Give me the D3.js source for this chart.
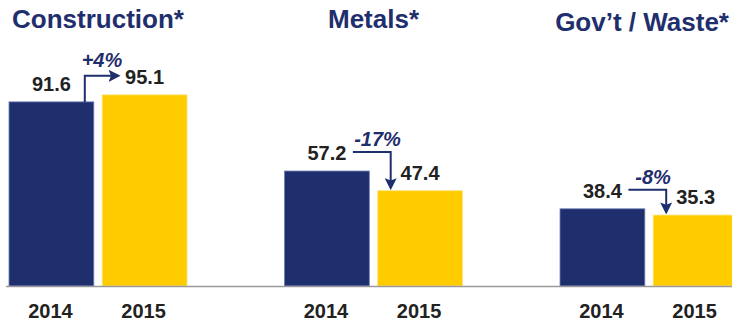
<!DOCTYPE html>
<html>
<head>
<meta charset="utf-8">
<script src="https://cdn.jsdelivr.net/npm/d3@7"></script>
<style>
  html, body { margin: 0; padding: 0; background: #fff; }
  svg { display: block; font-family: "Liberation Sans", Arial, sans-serif; }
</style>
</head>
<body>
<svg id="chart" width="732" height="324"></svg>
<script>
// ---- data ----
const categories = ["Construction*", "Metals*", "Gov\u2019t / Waste*"];
const years = ["2014", "2015"];
const values2014 = [91.6, 57.2, 38.4];
const values2015 = [95.1, 47.4, 35.3];
const changeLabels = ["+4%", "-17%", "-8%"];

// ---- layout ----
const W = 732, H = 324;
const navy = "#1f2e6c", yellow = "#ffcc00", textDark = "#222222";
const svg = d3.select("#chart");

const x0 = d3.scaleBand().domain(categories).range([9, 738]).paddingInner(0.354).paddingOuter(0);
const x1 = d3.scaleBand().domain(years).range([0, x0.bandwidth()]).paddingInner(0.09);
const y = d3.scaleLinear().domain([0, 100]).range([286, 85]);

const rows = categories.map((c, i) => ({ cat: c, v: [values2014[i], values2015[i]], change: changeLabels[i], idx: i }));

// defs: arrowhead
svg.append("defs").append("marker")
  .attr("id", "arrow").attr("viewBox", "0 0 10 10")
  .attr("refX", 8).attr("refY", 5)
  .attr("markerWidth", 6).attr("markerHeight", 6)
  .attr("markerUnits", "strokeWidth")
  .attr("orient", "auto")
  .append("path").attr("d", "M0,0 L10,5 L0,10 L2,5 Z").attr("fill", navy);

// bars
const g = svg.selectAll("g.grp").data(rows).join("g")
  .attr("class", "grp")
  .attr("transform", d => `translate(${x0(d.cat)},0)`);

g.selectAll("rect").data(d => years.map((yr, j) => ({ yr, v: d.v[j] }))).join("rect")
  .attr("x", d => x1(d.yr))
  .attr("y", d => y(d.v))
  .attr("width", x1.bandwidth())
  .attr("height", d => y(0) - y(d.v))
  .attr("fill", d => d.yr === "2014" ? navy : yellow)
  .attr("stroke", d => d.yr === "2014" ? "#6d7db5" : "#ffe27a")
  .attr("stroke-width", 0.8);

// axis baseline
svg.append("line")
  .attr("x1", 6).attr("x2", W).attr("y1", y(0) + 0.5).attr("y2", y(0) + 0.5)
  .attr("stroke", "#9a9a9a").attr("stroke-width", 1.5);

// value labels
g.selectAll("text.val").data(d => years.map((yr, j) => ({ yr, v: d.v[j] }))).join("text")
  .attr("class", "val")
  .attr("x", d => x1(d.yr) + x1.bandwidth() / 2)
  .attr("y", d => y(d.v) - 11)
  .attr("text-anchor", "middle")
  .attr("font-size", 20).attr("font-weight", "bold").attr("fill", textDark)
  .text(d => d.v.toFixed(1));

// year labels
g.selectAll("text.yr").data(years).join("text")
  .attr("class", "yr")
  .attr("x", d => x1(d) + x1.bandwidth() / 2 - 1)
  .attr("y", 318)
  .attr("text-anchor", "middle")
  .attr("font-size", 20).attr("font-weight", "bold").attr("fill", textDark)
  .text(d => d);

// titles
const titleBase = [28, 28, 31];
svg.selectAll("text.title").data(rows).join("text")
  .attr("class", "title")
  .attr("y", d => titleBase[d.idx])
  .attr("text-anchor", "middle")
  .attr("font-size", 26).attr("font-weight", "bold").attr("fill", navy)
  .text(d => d.cat)
  .each(function (d) {
    const w = this.getComputedTextLength();
    let cx = x0(d.cat) + x0.bandwidth() / 2;
    if (cx + w / 2 > W - 3) cx = W - 3 - w / 2;
    d3.select(this).attr("x", cx);
  });

// change arrows + labels
rows.forEach(d => {
  const gx = x0(d.cat);
  const b1L = gx + x1("2014"), b1R = b1L + x1.bandwidth();
  const b2L = gx + x1("2015");
  const gapC = (b1R + b2L) / 2;
  let path, labelY;
  if (d.v[1] >= d.v[0]) {
    const vx = b1R - 9;
    const hy = y(d.v[1]) - 19;
    path = `M${vx},${y(d.v[0])} L${vx},${hy} L${b2L + 16},${hy}`;
    labelY = hy - 9;
  } else {
    const hy = y(d.v[0]) - 19;
    const sx = b1L + x1.bandwidth() / 2 + 26;
    const ax = b2L + 13;
    path = `M${sx},${hy} L${ax},${hy} L${ax},${y(d.v[1]) - 3}`;
    labelY = hy - 6;
  }
  svg.append("path").attr("d", path)
    .attr("fill", "none").attr("stroke", navy).attr("stroke-width", 2)
    .attr("marker-end", "url(#arrow)");
  svg.append("text")
    .attr("x", gapC + 4).attr("y", labelY)
    .attr("text-anchor", "middle")
    .attr("font-size", 20).attr("font-weight", "bold").attr("font-style", "italic")
    .attr("fill", navy)
    .text(d.change);
});
</script>
</body>
</html>
